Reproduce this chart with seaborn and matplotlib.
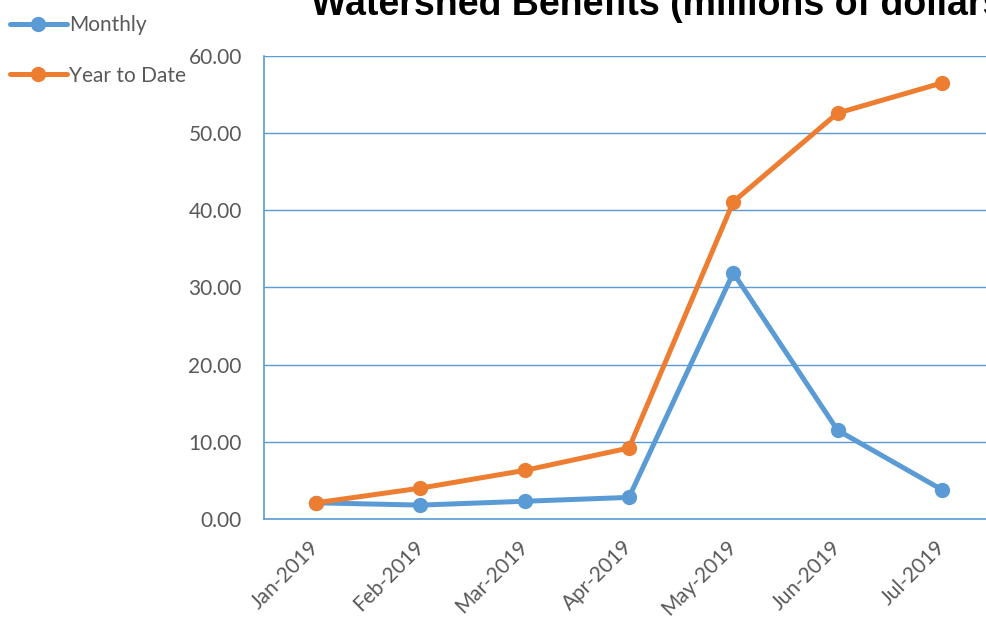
import pandas as pd
import numpy as np
from matplotlib import pyplot as plt
import seaborn as sns

sns.set_style('white')
plt.rcParams['font.family'] = ['Lato', 'DejaVu Sans']

months = ['Jan-2019', 'Feb-2019', 'Mar-2019', 'Apr-2019', 'May-2019', 'Jun-2019', 'Jul-2019']
monthly = [2.1, 1.8, 2.3, 2.8, 31.9, 11.5, 3.8]
ytd = [2.1, 4.0, 6.3, 9.2, 41.1, 52.6, 56.5]

df = pd.DataFrame({
    'month': months * 2,
    'value': monthly + ytd,
    'series': ['Monthly'] * 7 + ['Year to Date'] * 7,
})

blue = '#5B9BD5'
orange = '#ED7D31'

fig = plt.figure(figsize=(9.86, 6.2), dpi=100)
ax = fig.add_axes([264 / 986, 1 - 519 / 620, 730 / 986, (519 - 56) / 620])

sns.lineplot(data=df, x='month', y='value', hue='series', palette=[blue, orange],
             marker='o', markersize=11, markeredgewidth=0, linewidth=3.6,
             sort=False, ax=ax)

ax.set_xlim(-0.5, 6.5)
ax.set_ylim(0, 60)
ax.set_yticks(np.arange(0, 61, 10))
ax.set_yticklabels([f'{v:.2f}' for v in np.arange(0, 61, 10)])
ax.set_xlabel('')
ax.set_ylabel('')
ax.grid(axis='y', color=blue, linewidth=1)
ax.set_axisbelow(True)
for side in ['top', 'right']:
    ax.spines[side].set_visible(False)
for side in ['left', 'bottom']:
    ax.spines[side].set_color(blue)
    ax.spines[side].set_linewidth(1.2)
ax.tick_params(axis='both', length=0, labelsize=15, labelcolor='#595959')
ax.tick_params(axis='y', pad=16)
ax.tick_params(axis='x', pad=18)
plt.setp(ax.get_xticklabels(), rotation=45, ha='right', va='center', rotation_mode='anchor')

ax.legend(loc='upper left', bbox_to_anchor=(-262 / 730, 1 + 49 / 463), frameon=False,
          fontsize=15, labelcolor='#595959', handlelength=2.7, handletextpad=0.1,
          labelspacing=1.45, borderaxespad=0)

fig.text(311 / 986, 1 - 15 / 620, 'Watershed Benefits (millions of dollars)',
         family=['Liberation Sans', 'DejaVu Sans'], fontweight='bold', fontsize=27,
         ha='left', va='baseline', color='black')

fig.savefig('out.png', dpi=100)
